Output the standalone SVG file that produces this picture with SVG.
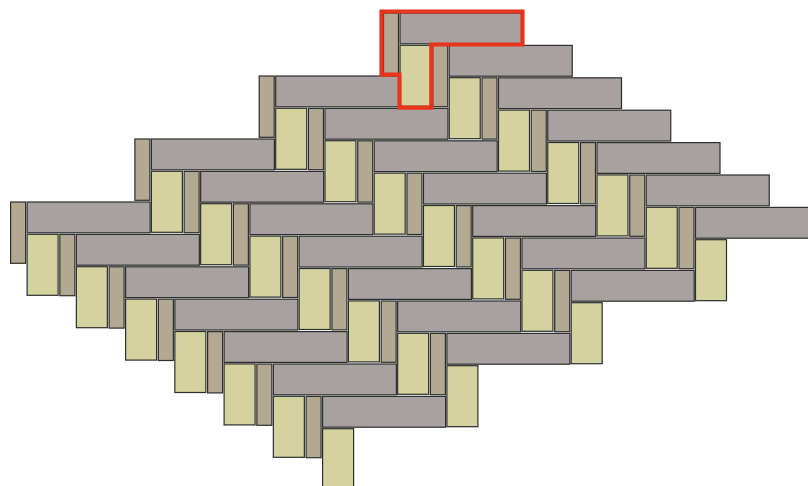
<svg xmlns="http://www.w3.org/2000/svg" width="808" height="486" viewBox="0 0 808 486">
<style>
.g{fill:#a9a1a0;stroke:#2e2e2e;stroke-width:1.2}
.y{fill:#d4d39f;stroke:#2e2e2e;stroke-width:1.2}
.t{fill:#b3a993;stroke:#2e2e2e;stroke-width:1.2}
.hl{fill:none;stroke:#e6341d;stroke-width:4.2;stroke-linejoin:miter}
</style>
<defs>
<g id="tile">
<rect class="t" x="-16.5" y="0" width="15" height="61.3"/>
<rect class="g" x="0" y="0" width="123" height="30.8"/>
<rect class="y" x="0" y="32.3" width="31" height="61"/>
</g>
</defs>
<rect width="808" height="486" fill="#ffffff"/>
<g id="row0">
<use id="t0_0" href="#tile" x="400" y="13"/>
<use id="t0_1" href="#tile" x="449.25" y="45.4"/>
<use id="t0_2" href="#tile" x="498.5" y="77.8"/>
<use id="t0_3" href="#tile" x="547.75" y="110.2"/>
<use id="t0_4" href="#tile" x="597" y="142.6"/>
<use id="t0_5" href="#tile" x="646.25" y="175"/>
<use id="t0_6" href="#tile" x="695.5" y="207.4"/>
</g>
<g id="row1">
<use id="t1_0" href="#tile" x="275.7" y="76"/>
<use id="t1_1" href="#tile" x="324.95" y="108.4"/>
<use id="t1_2" href="#tile" x="374.2" y="140.8"/>
<use id="t1_3" href="#tile" x="423.45" y="173.2"/>
<use id="t1_4" href="#tile" x="472.7" y="205.6"/>
<use id="t1_5" href="#tile" x="521.95" y="238"/>
<use id="t1_6" href="#tile" x="571.2" y="270.4"/>
</g>
<g id="row2">
<use id="t2_0" href="#tile" x="151.4" y="139"/>
<use id="t2_1" href="#tile" x="200.65" y="171.4"/>
<use id="t2_2" href="#tile" x="249.9" y="203.8"/>
<use id="t2_3" href="#tile" x="299.15" y="236.2"/>
<use id="t2_4" href="#tile" x="348.4" y="268.6"/>
<use id="t2_5" href="#tile" x="397.65" y="301"/>
<use id="t2_6" href="#tile" x="446.9" y="333.4"/>
</g>
<g id="row3">
<use id="t3_0" href="#tile" x="27.1" y="202"/>
<use id="t3_1" href="#tile" x="76.35" y="234.4"/>
<use id="t3_2" href="#tile" x="125.6" y="266.8"/>
<use id="t3_3" href="#tile" x="174.85" y="299.2"/>
<use id="t3_4" href="#tile" x="224.1" y="331.6"/>
<use id="t3_5" href="#tile" x="273.35" y="364"/>
<use id="t3_6" href="#tile" x="322.6" y="396.4"/>
</g>
<g id="highlight">
<path class="hl" d="M381.5,11.5 H522.5 V44.5 H431.3 V107.7 H399.5 V74.7 H381.5 Z"/>
</g>
</svg>
